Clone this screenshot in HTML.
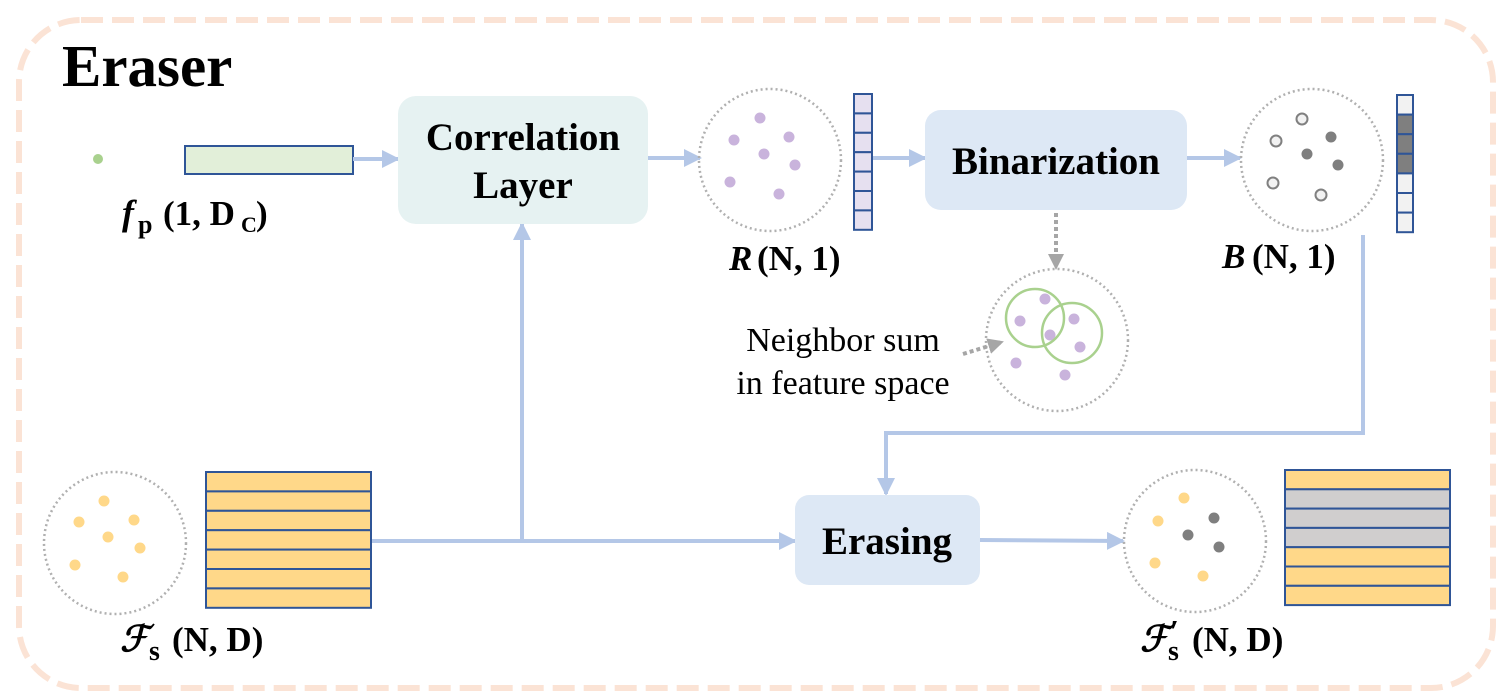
<!DOCTYPE html>
<html><head><meta charset="utf-8"><style>
html,body{margin:0;padding:0;background:#fff;}
svg{display:block;font-family:"Liberation Serif","DejaVu Serif",serif;}
text{font-family:"Liberation Serif","DejaVu Serif",serif;fill:#000;}
</style></head><body>
<svg width="1511" height="699" viewBox="0 0 1511 699" xmlns="http://www.w3.org/2000/svg">
<defs>
<marker id="a" markerWidth="18" markerHeight="18" refX="16" refY="9" orient="auto" markerUnits="userSpaceOnUse" viewBox="0 0 18 18"><path d="M0,0 L18,9 L0,18z" fill="#b4c7e7"/></marker>
<marker id="g" markerWidth="16" markerHeight="16" refX="14" refY="8" orient="auto" markerUnits="userSpaceOnUse" viewBox="0 0 16 16"><path d="M0,0 L16,8 L0,16z" fill="#a6a6a6"/></marker>
</defs>
<rect x="19" y="20" width="1474" height="668" rx="62" fill="none" stroke="#fbe3d5" stroke-width="6" stroke-dasharray="22 9"/>
<text x="62" y="86" font-size="59" font-weight="bold">Eraser</text>

<!-- fp -->
<circle cx="98" cy="159" r="5" fill="#a9d18e"/>
<rect x="185" y="146" width="168" height="28" fill="#e2efd9" stroke="#2f5597" stroke-width="2"/>
<text x="122" y="225" font-size="36" font-weight="bold" font-style="italic">f</text>
<text x="138" y="233" font-size="26" font-weight="bold">p</text>
<text x="163" y="225" font-size="35" font-weight="bold">(1, D</text>
<text x="241" y="232" font-size="22" font-weight="bold">C</text>
<text x="256" y="225" font-size="35" font-weight="bold">)</text>

<g stroke="#b4c7e7" stroke-width="4" fill="none">
<line x1="353" y1="159" x2="398" y2="159" marker-end="url(#a)"/>
<line x1="648" y1="158" x2="700" y2="158" marker-end="url(#a)"/>
<line x1="872" y1="158" x2="925" y2="158" marker-end="url(#a)"/>
<line x1="1187" y1="158" x2="1240" y2="158" marker-end="url(#a)"/>
<polyline points="1363,235 1363,433 886,433 886,494" marker-end="url(#a)"/>
<line x1="371" y1="541" x2="795" y2="541" marker-end="url(#a)"/>
<line x1="522" y1="541" x2="522" y2="224" marker-end="url(#a)"/>
<line x1="980" y1="540" x2="1123" y2="541" marker-end="url(#a)"/>
</g>

<rect x="398" y="96" width="250" height="128" rx="18" fill="#e6f2f2"/>
<text x="523" y="150" font-size="39" font-weight="bold" text-anchor="middle">Correlation</text>
<text x="523" y="198" font-size="39" font-weight="bold" text-anchor="middle">Layer</text>

<!-- R -->
<circle cx="770" cy="160" r="71" fill="none" stroke="#b0b0b0" stroke-width="2.5" stroke-dasharray="2 3"/>
<g fill="#c9b3dc">
<circle cx="760" cy="118" r="5.5"/><circle cx="789" cy="137" r="5.5"/><circle cx="734" cy="140" r="5.5"/><circle cx="764" cy="154" r="5.5"/><circle cx="795" cy="165" r="5.5"/><circle cx="730" cy="182" r="5.5"/><circle cx="779" cy="194" r="5.5"/>
</g>
<g stroke="#2f5597" stroke-width="2" fill="#e6e0f0">
<rect x="854" y="94" width="18" height="19.4"/><rect x="854" y="113.4" width="18" height="19.4"/><rect x="854" y="132.8" width="18" height="19.4"/><rect x="854" y="152.2" width="18" height="19.4"/><rect x="854" y="171.6" width="18" height="19.4"/><rect x="854" y="191" width="18" height="19.4"/><rect x="854" y="210.4" width="18" height="19.4"/>
</g>
<text x="729" y="270" font-size="35" font-weight="bold" font-style="italic">R</text>
<text x="757" y="270" font-size="35" font-weight="bold">(N, 1)</text>

<rect x="925" y="110" width="262" height="100" rx="16" fill="#dde8f5"/>
<text x="1056" y="174" font-size="39" font-weight="bold" text-anchor="middle">Binarization</text>

<!-- B -->
<circle cx="1312" cy="160" r="71" fill="none" stroke="#b0b0b0" stroke-width="2.5" stroke-dasharray="2 3"/>
<g fill="#f2f2f2" stroke="#808080" stroke-width="2">
<circle cx="1302" cy="119" r="5.5"/><circle cx="1276" cy="141" r="5.5"/><circle cx="1273" cy="183" r="5.5"/><circle cx="1321" cy="195" r="5.5"/>
</g>
<g fill="#7f7f7f"><circle cx="1331" cy="137" r="5.5"/><circle cx="1307" cy="154" r="5.5"/><circle cx="1338" cy="165" r="5.5"/></g>
<g stroke="#2f5597" stroke-width="2">
<rect x="1397" y="95" width="16" height="19.6" fill="#f2f2f2"/><rect x="1397" y="114.6" width="16" height="19.6" fill="#7f7f7f"/><rect x="1397" y="134.2" width="16" height="19.6" fill="#7f7f7f"/><rect x="1397" y="153.8" width="16" height="19.6" fill="#7f7f7f"/><rect x="1397" y="173.4" width="16" height="19.6" fill="#f2f2f2"/><rect x="1397" y="193" width="16" height="19.6" fill="#f2f2f2"/><rect x="1397" y="212.6" width="16" height="19.6" fill="#f2f2f2"/>
</g>
<text x="1222" y="268" font-size="35" font-weight="bold" font-style="italic">B</text>
<text x="1252" y="268" font-size="35" font-weight="bold">(N, 1)</text>

<!-- neighbor -->
<line x1="1056" y1="213" x2="1056" y2="268" stroke="#a6a6a6" stroke-width="4" stroke-dasharray="4 3" marker-end="url(#g)"/>
<circle cx="1057" cy="340" r="71" fill="none" stroke="#b0b0b0" stroke-width="2.5" stroke-dasharray="2 3"/>
<g fill="#c9b3dc">
<circle cx="1045" cy="299" r="5.5"/><circle cx="1020" cy="321" r="5.5"/><circle cx="1074" cy="319" r="5.5"/><circle cx="1050" cy="335" r="5.5"/><circle cx="1080" cy="347" r="5.5"/><circle cx="1016" cy="363" r="5.5"/><circle cx="1065" cy="375" r="5.5"/>
</g>
<circle cx="1035" cy="318" r="29" fill="none" stroke="#a9d18e" stroke-width="2.5"/>
<circle cx="1072" cy="333" r="30" fill="none" stroke="#a9d18e" stroke-width="2.5"/>
<line x1="963" y1="354" x2="1002" y2="342" stroke="#a6a6a6" stroke-width="4" stroke-dasharray="4 3" marker-end="url(#g)"/>
<text x="843" y="351" font-size="34" text-anchor="middle">Neighbor sum</text>
<text x="843" y="394" font-size="34" text-anchor="middle">in feature space</text>

<!-- Fs -->
<circle cx="115" cy="543" r="71" fill="none" stroke="#b0b0b0" stroke-width="2.5" stroke-dasharray="2 3"/>
<g fill="#ffd889">
<circle cx="104" cy="501" r="5.5"/><circle cx="79" cy="522" r="5.5"/><circle cx="134" cy="520" r="5.5"/><circle cx="108" cy="537" r="5.5"/><circle cx="140" cy="548" r="5.5"/><circle cx="75" cy="565" r="5.5"/><circle cx="123" cy="577" r="5.5"/>
</g>
<g stroke="#2f5597" stroke-width="2" fill="#ffd889">
<rect x="206" y="472" width="165" height="19.4"/><rect x="206" y="491.4" width="165" height="19.4"/><rect x="206" y="510.8" width="165" height="19.4"/><rect x="206" y="530.2" width="165" height="19.4"/><rect x="206" y="549.6" width="165" height="19.4"/><rect x="206" y="569" width="165" height="19.4"/><rect x="206" y="588.4" width="165" height="19.4"/>
</g>
<text x="120" y="651" font-size="36" font-weight="bold" font-style="italic">ℱ</text>
<text x="149" y="660" font-size="28" font-weight="bold">s</text>
<text x="172" y="651" font-size="35" font-weight="bold">(N, D)</text>

<rect x="795" y="495" width="185" height="90" rx="14" fill="#dde8f5"/>
<text x="887" y="554" font-size="39" font-weight="bold" text-anchor="middle">Erasing</text>

<!-- F's -->
<circle cx="1195" cy="541" r="71" fill="none" stroke="#b0b0b0" stroke-width="2.5" stroke-dasharray="2 3"/>
<g fill="#ffd889"><circle cx="1184" cy="498" r="5.5"/><circle cx="1158" cy="521" r="5.5"/><circle cx="1155" cy="563" r="5.5"/><circle cx="1203" cy="576" r="5.5"/></g>
<g fill="#7f7f7f"><circle cx="1214" cy="518" r="5.5"/><circle cx="1188" cy="535" r="5.5"/><circle cx="1219" cy="547" r="5.5"/></g>
<g stroke="#2f5597" stroke-width="2">
<rect x="1285" y="470" width="165" height="19.3" fill="#ffd889"/><rect x="1285" y="489.3" width="165" height="19.3" fill="#d0cece"/><rect x="1285" y="508.6" width="165" height="19.3" fill="#d0cece"/><rect x="1285" y="527.9" width="165" height="19.3" fill="#d0cece"/><rect x="1285" y="547.2" width="165" height="19.3" fill="#ffd889"/><rect x="1285" y="566.5" width="165" height="19.3" fill="#ffd889"/><rect x="1285" y="585.8" width="165" height="19.3" fill="#ffd889"/>
</g>
<text x="1140" y="651" font-size="36" font-weight="bold" font-style="italic">ℱ</text>
<text x="1170" y="642" font-size="32" font-weight="bold">′</text>
<text x="1168" y="660" font-size="28" font-weight="bold">s</text>
<text x="1192" y="651" font-size="35" font-weight="bold">(N, D)</text>
</svg>
</body></html>
